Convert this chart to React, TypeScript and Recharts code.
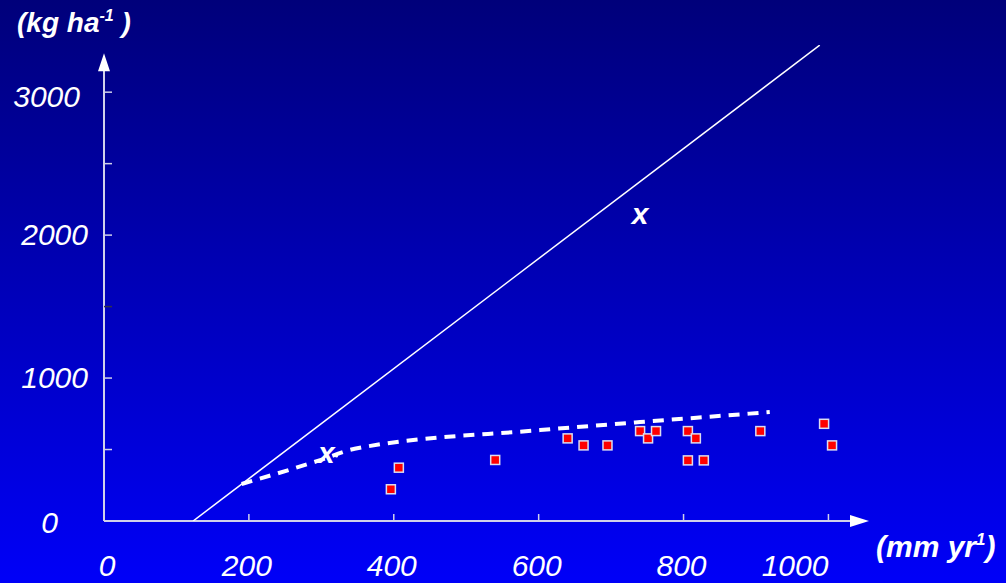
import React from 'react';
import {
  ComposedChart,
  Line,
  Scatter,
  XAxis,
  YAxis,
  ReferenceLine,
  ReferenceDot,
} from 'recharts';

// rainfall (mm/yr) vs yield (kg/ha)
const potentialLine = [
  { x: 123, y: 0 },
  { x: 988, y: 3329 },
];

const attainableCurve = [
  { x: 190, y: 259 },
  { x: 295, y: 420 },
  { x: 346, y: 505 },
  { x: 602, y: 636 },
  { x: 740, y: 692 },
  { x: 919, y: 762 },
];

const observed = [
  { x: 396, y: 222 },
  { x: 407, y: 373 },
  { x: 540, y: 427 },
  { x: 640, y: 578 },
  { x: 662, y: 529 },
  { x: 695, y: 529 },
  { x: 740, y: 629 },
  { x: 751, y: 578 },
  { x: 762, y: 629 },
  { x: 806, y: 629 },
  { x: 817, y: 578 },
  { x: 806, y: 424 },
  { x: 828, y: 424 },
  { x: 906, y: 629 },
  { x: 994, y: 680 },
  { x: 1005, y: 529 },
];

const xTicks = [0, 200, 400, 600, 800, 1000];
const yTicks = [0, 500, 1000, 1500, 2000, 2500, 3000];
const yLabels = [0, 1000, 2000, 3000];

const FONT = '"Liberation Sans", Arial, sans-serif';
const AXIS = '#d0d0ea';

const YTick = (props: any) => {
  const { x, y, payload } = props;
  const v = payload.value;
  const showLabel = yLabels.includes(v);
  const labelEnd = v === 0 ? 58 : v === 3000 ? 80 : 88;
  return (
    <g>
      {v !== 0 && (
        <line x1={x} x2={x + 8} y1={y} y2={y} stroke={v === 1500 ? '#303050' : AXIS} strokeWidth={1.5} />
      )}
      {showLabel && (
        <text
          x={labelEnd}
          y={y + (v === 3000 ? 5 : v === 0 ? 2 : 0)}
          dy={10}
          textAnchor="end"
          fill="#ffffff"
          fontSize={30}
          fontStyle="italic"
          fontFamily={FONT}
        >
          {v}
        </text>
      )}
    </g>
  );
};

const XTick = (props: any) => {
  const { x, y, payload } = props;
  const v = payload.value;
  return (
    <g>
      {v !== 0 && <line x1={x} x2={x} y1={y} y2={y - 7} stroke={AXIS} strokeWidth={1.5} />}
      <text
        x={v === 1000 ? x : v === 0 ? x + 3 : x - 2}
        y={y + 55}
        textAnchor={v === 1000 ? 'end' : 'middle'}
        fill="#ffffff"
        fontSize={30}
        fontStyle="italic"
        fontFamily={FONT}
      >
        {v}
      </text>
    </g>
  );
};

const RedSquare = (props: any) => {
  const { cx, cy } = props;
  return <rect x={cx - 4.5} y={cy - 4.5} width={9} height={9} fill="#ff0000" stroke="#dcdcf0" strokeWidth={1.5} />;
};

const UpArrow = (props: any) => {
  const { cx, cy } = props;
  return <path d={`M${cx},${cy} L${cx - 6},${cy + 18} L${cx + 6},${cy + 18} Z`} fill="#ffffff" />;
};

const RightArrow = (props: any) => {
  const { cx, cy } = props;
  return <path d={`M${cx},${cy} L${cx - 19},${cy - 6} L${cx - 19},${cy + 6} Z`} fill="#ffffff" />;
};

const markLabel = {
  value: 'x',
  position: 'center' as const,
  fill: '#ffffff',
  fontSize: 30,
  fontWeight: 'bold',
  fontStyle: 'italic',
  fontFamily: FONT,
};

const titleStyle: React.CSSProperties = {
  position: 'absolute',
  color: '#ffffff',
  fontFamily: FONT,
  fontWeight: 'bold',
  fontStyle: 'italic',
  fontSize: 28,
  whiteSpace: 'nowrap',
  lineHeight: 1,
};

export default function App() {
  return (
    <div
      style={{
        position: 'fixed',
        left: 0,
        top: 0,
        width: 1006,
        height: 583,
        background: 'linear-gradient(to bottom, #00007a 0%, #0000f8 100%)',
        overflow: 'hidden',
      }}
    >
      <ComposedChart width={1006} height={583} margin={{ top: 45, right: 137, bottom: 0, left: 0 }}>
        <XAxis
          type="number"
          dataKey="x"
          domain={[0, 1056]}
          ticks={xTicks}
          height={62}
          axisLine={false}
          tickLine={false}
          tickSize={0}
          tickMargin={0}
          tick={<XTick />}
          allowDataOverflow
        />
        <YAxis
          type="number"
          dataKey="y"
          width={104}
          domain={[0, 3330]}
          ticks={yTicks}
          axisLine={false}
          tickLine={false}
          tickSize={0}
          tickMargin={0}
          tick={<YTick />}
          allowDataOverflow
        />
        <ReferenceLine segment={[{ x: 0, y: 0 }, { x: 0, y: 3160 }]} stroke={AXIS} strokeWidth={2} />
        <ReferenceLine segment={[{ x: 0, y: 0 }, { x: 1030, y: 0 }]} stroke={AXIS} strokeWidth={2} />
        <ReferenceDot x={0} y={3273} r={0} shape={<UpArrow />} ifOverflow="visible" />
        <ReferenceDot x={1056} y={0} r={0} shape={<RightArrow />} ifOverflow="visible" />

        <Line
          data={potentialLine}
          dataKey="y"
          type="linear"
          stroke="#ffffff"
          strokeWidth={1.5}
          dot={false}
          isAnimationActive={false}
        />
        <Line
          data={attainableCurve}
          dataKey="y"
          type="monotone"
          stroke="#ffffff"
          strokeWidth={4}
          strokeDasharray="11 8"
          dot={false}
          isAnimationActive={false}
        />
        <Scatter data={observed} dataKey="y" shape={<RedSquare />} isAnimationActive={false} />

        <ReferenceDot x={740} y={2150} r={0} fill="none" stroke="none" label={markLabel} />
        <ReferenceDot x={307} y={480} r={0} fill="none" stroke="none" label={markLabel} />
        <ReferenceDot x={321} y={455} r={1.5} fill="#ffffff" stroke="none" />
      </ComposedChart>

      <div style={{ ...titleStyle, left: 17, top: 9 }}>
        (kg ha<sup style={{ fontSize: 16, verticalAlign: 'top', position: 'relative', top: -1 }}>-1</sup> )
      </div>
      <div style={{ ...titleStyle, fontSize: 30, left: 876, top: 532 }}>
        (mm yr<sup style={{ fontSize: 17, verticalAlign: 'top', position: 'relative', top: -1 }}>1</sup>)
      </div>
    </div>
  );
}
